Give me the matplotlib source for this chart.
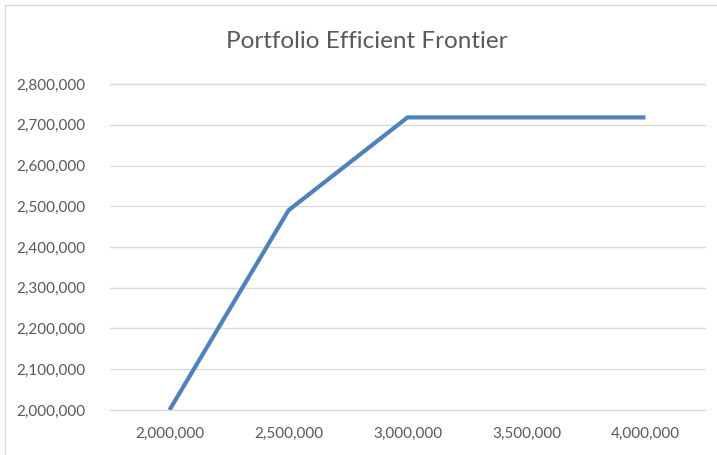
import matplotlib
matplotlib.use("Agg")
import matplotlib.pyplot as plt
from matplotlib.patches import Rectangle
from matplotlib.ticker import FuncFormatter

# category axis (risk levels) and frontier values
categories = ["2,000,000", "2,500,000", "3,000,000", "3,500,000", "4,000,000"]
frontier = [2000000, 2490000, 2718000, 2718000, 2718000]
y_ticks = [2000000, 2100000, 2200000, 2300000, 2400000, 2500000, 2600000, 2700000, 2800000]

plt.rcParams['font.family'] = ['Lato', 'DejaVu Sans']
text_color = '#595959'

fig = plt.figure(figsize=(7.17, 4.55), dpi=100)
ax = fig.add_axes([110 / 717, 1 - 410 / 455, 595 / 717, 326 / 455])

x = list(range(len(categories)))
ax.plot(x, frontier, color='#4F81BD', linewidth=3.0, solid_capstyle='butt', zorder=3)

ax.set_xlim(-0.5, len(categories) - 0.5)
ax.set_ylim(y_ticks[0], y_ticks[-1])
ax.set_xticks(x)
ax.set_xticklabels(categories)
ax.set_yticks(y_ticks)
ax.yaxis.set_major_formatter(FuncFormatter(lambda v, p: f"{int(v):,}"))

ax.grid(axis='y', color='#D9D9D9', linewidth=1.0)
ax.set_axisbelow(True)
for gl in ax.get_ygridlines():
    gl.set_clip_on(False)
for s in ax.spines.values():
    s.set_visible(False)
ax.tick_params(axis='both', length=0, labelsize=11, colors=text_color)
ax.tick_params(axis='y', pad=18)
ax.tick_params(axis='x', pad=12)

fig.text(367 / 717, 1 - 42 / 455, 'Portfolio Efficient Frontier', ha='center', va='center',
         fontsize=17.5, color=text_color)

# chart frame
fig.patches.append(Rectangle((5 / 717, -0.1), 1.2, 1 - 5 / 455 + 0.1, transform=fig.transFigure,
                             fill=False, edgecolor='#D9D9D9', linewidth=1.0))

fig.savefig('out.png', dpi=100)
